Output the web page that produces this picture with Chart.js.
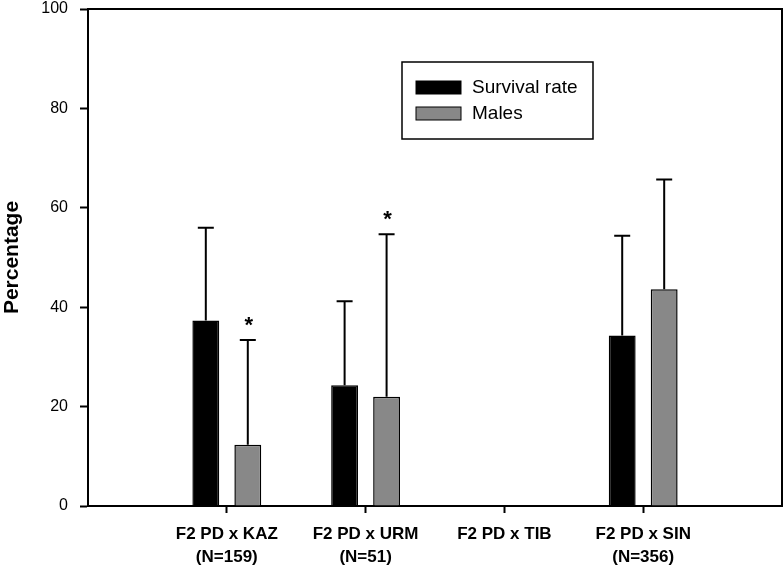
<!DOCTYPE html>
<html>
<head>
<meta charset="utf-8">
<script src="https://cdn.jsdelivr.net/npm/chart.js@4.4.1/dist/chart.umd.min.js"></script>
<style>
  html, body { margin: 0; padding: 0; background: #fff; }
  #wrap { width: 783px; height: 567px; position: relative; }
</style>
</head>
<body>
<div id="wrap"><canvas id="chart"></canvas></div>
<script>
// categories sit at x = 1..4 on a 0..5 axis (SigmaPlot style)
const groupPos = [1, 2, 3, 4];
const groupNames = ['F2 PD x KAZ', 'F2 PD x URM', 'F2 PD x TIB', 'F2 PD x SIN'];
const groupN = ['(N=159)', '(N=51)', '', '(N=356)'];

const survival = [37.3, 24.3, null, 34.3];
const survivalErr = [18.7, 16.9, null, 20.1];
const males = [12.3, 22.0, null, 43.6];
const malesErr = [21.1, 32.7, null, 22.1];
const malesSig = [true, true, false, false];

const yTicks = [0, 20, 40, 60, 80, 100];

Chart.defaults.font.family = "'Liberation Sans', Arial, sans-serif";
Chart.defaults.color = '#000';

const errorBars = {
    id: 'errorBars',
    afterDatasetsDraw(chart) {
        const ctx = chart.ctx;
        const y = chart.scales.y;
        ctx.save();
        chart.data.datasets.forEach((ds, i) => {
            const meta = chart.getDatasetMeta(i);
            meta.data.forEach((bar, j) => {
                const v = ds.data[j].y;
                if (v === null) return;
                const top = y.getPixelForValue(v + ds.errors[j]);
                ctx.strokeStyle = '#000';
                ctx.lineWidth = 2;
                ctx.beginPath();
                ctx.moveTo(bar.x, bar.y);
                ctx.lineTo(bar.x, top);
                ctx.moveTo(bar.x - 8, top);
                ctx.lineTo(bar.x + 8, top);
                ctx.stroke();
                if (ds.sig && ds.sig[j]) {
                    ctx.fillStyle = '#000';
                    ctx.font = "bold 22px 'Liberation Sans', Arial, sans-serif";
                    ctx.textAlign = 'center';
                    ctx.textBaseline = 'middle';
                    ctx.fillText('*', bar.x + 1, top - 14);
                }
            });
        });
        ctx.restore();
    }
};

const frameAndLegend = {
    id: 'frameAndLegend',
    afterDraw(chart) {
        const ctx = chart.ctx;
        const a = chart.chartArea;
        ctx.save();
        ctx.strokeStyle = '#000';
        ctx.lineWidth = 2;
        ctx.beginPath();
        ctx.moveTo(a.left, a.top);
        ctx.lineTo(a.right, a.top);
        ctx.lineTo(a.right, a.bottom);
        ctx.stroke();

        // legend box
        const lx = a.left + 314, ly = a.top + 53, lw = 191, lh = 77;
        ctx.lineWidth = 1.5;
        ctx.fillStyle = '#fff';
        ctx.fillRect(lx, ly, lw, lh);
        ctx.strokeRect(lx, ly, lw, lh);
        ctx.font = "19px 'Liberation Sans', Arial, sans-serif";
        ctx.textAlign = 'left';
        ctx.textBaseline = 'middle';
        chart.data.datasets.forEach((ds, i) => {
            const sy = ly + 19 + i * 26;
            ctx.fillStyle = ds.backgroundColor;
            ctx.fillRect(lx + 14, sy, 45, 13);
            ctx.lineWidth = 1;
            ctx.strokeRect(lx + 14, sy, 45, 13);
            ctx.fillStyle = '#000';
            ctx.fillText(ds.label, lx + 70, sy + 7);
        });
        ctx.restore();
    }
};

new Chart(document.getElementById('chart'), {
    type: 'bar',
    data: {
        datasets: [{
            label: 'Survival rate',
            data: groupPos.map((x, i) => ({ x: x, y: survival[i] })),
            errors: survivalErr,
            backgroundColor: '#000000',
            borderColor: '#000000',
            borderWidth: 1.5,
            categoryPercentage: 0.605,
            barPercentage: 0.64
        }, {
            label: 'Males',
            data: groupPos.map((x, i) => ({ x: x, y: males[i] })),
            errors: malesErr,
            sig: malesSig,
            backgroundColor: '#888888',
            borderColor: '#000000',
            borderWidth: 1.5,
            categoryPercentage: 0.605,
            barPercentage: 0.64
        }]
    },
    options: {
        responsive: true,
        maintainAspectRatio: false,
        animation: false,
        layout: { padding: { top: 0, right: 1, left: 0, bottom: 0 } },
        plugins: {
            legend: { display: false },
            tooltip: { enabled: false }
        },
        scales: {
            x: {
                type: 'linear',
                min: 0,
                max: 5,
                offset: false,
                afterBuildTicks(scale) {
                    scale.ticks = groupPos.map(v => ({ value: v }));
                },
                afterFit(scale) { scale.height = 61; },
                ticks: {
                    autoSkip: false,
                    maxRotation: 0,
                    padding: 10,
                    font: { size: 17, weight: 'bold', lineHeight: 1.35 },
                    callback(value) {
                        const i = groupPos.indexOf(value);
                        return i < 0 ? '' : [groupNames[i], groupN[i]];
                    }
                },
                grid: {
                    offset: false,
                    drawOnChartArea: false,
                    tickLength: 7,
                    tickColor: '#000',
                    tickWidth: 2
                },
                border: { color: '#000', width: 2 }
            },
            y: {
                min: 0,
                max: 100,
                afterBuildTicks(scale) {
                    scale.ticks = yTicks.map(v => ({ value: v }));
                },
                afterFit(scale) {
                    scale.width = 88;
                    scale.paddingTop = 9;
                    scale.paddingBottom = 0;
                },
                ticks: {
                    padding: 12,
                    font: { size: 16 }
                },
                grid: {
                    drawOnChartArea: false,
                    tickLength: 8,
                    tickColor: '#000',
                    tickWidth: 2
                },
                border: { color: '#000', width: 2 },
                title: {
                    display: true,
                    text: 'Percentage',
                    font: { size: 21, weight: 'bold' },
                    padding: { top: 0, bottom: 0 }
                }
            }
        }
    },
    plugins: [errorBars, frameAndLegend]
});
</script>
</body>
</html>
